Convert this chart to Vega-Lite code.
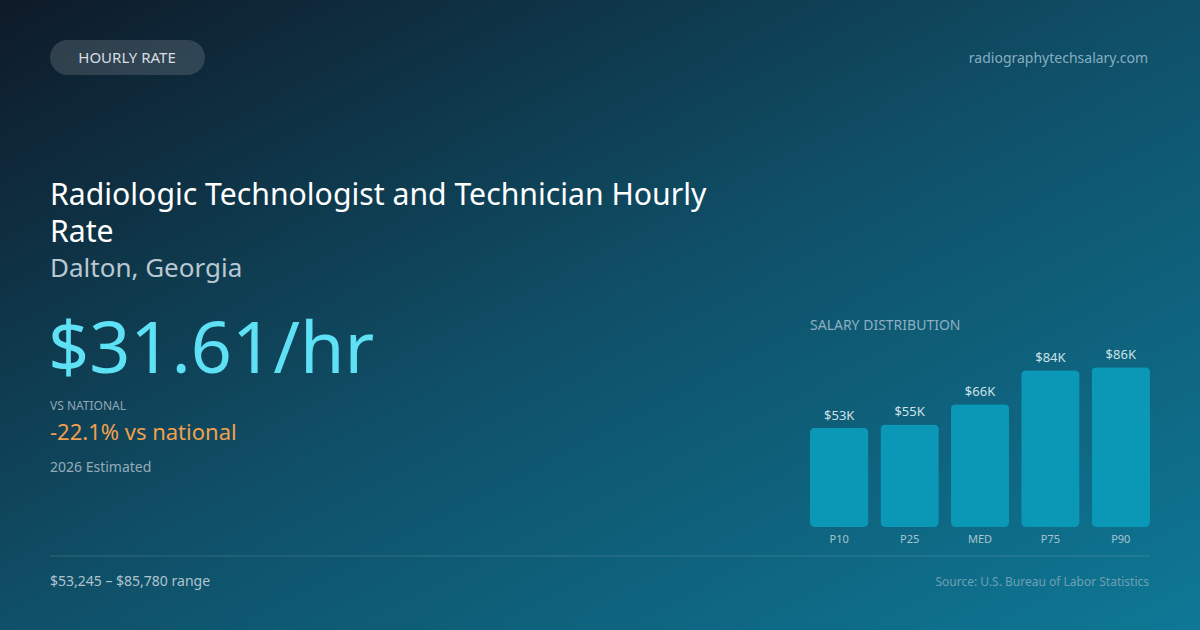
{
  "$schema": "https://vega.github.io/schema/vega-lite/v6.json",
  "width": 1200,
  "height": 630,
  "autosize": "none",
  "padding": 0,
  "background": "#0f3f56",
  "config": {
    "view": {"stroke": null},
    "font": "Noto Sans",
    "text": {"font": "Noto Sans"}
  },
  "datasets": {
    "dist": [
      {"pct": "P10", "salary": 53245, "label": "$53K"},
      {"pct": "P25", "salary": 55110, "label": "$55K"},
      {"pct": "MED", "salary": 65870, "label": "$66K"},
      {"pct": "P75", "salary": 84170, "label": "$84K"},
      {"pct": "P90", "salary": 85780, "label": "$86K"}
    ],
    "one": [{}]
  },
  "layer": [
    {
      "data": {"name": "one"},
      "mark": {
        "type": "rect", "x": 0, "x2": 1200, "y": 0, "y2": 630,
        "fill": {
          "gradient": "linear", "x1": 0, "y1": 0, "x2": 1, "y2": 1,
          "stops": [
            {"offset": 0, "color": "#0e1a28"},
            {"offset": 0.5, "color": "#0f5068"},
            {"offset": 1, "color": "#0e7896"}
          ]
        }
      },
      "encoding": {}
    },
    {
      "data": {"name": "one"},
      "mark": {"type": "rect", "x": 50, "x2": 205, "y": 40, "y2": 75, "cornerRadius": 17.5, "fill": "#ffffff", "fillOpacity": 0.14},
      "encoding": {}
    },
    {
      "data": {"name": "one"},
      "mark": {"type": "text", "x": 127, "y": 63, "align": "center", "baseline": "alphabetic", "fontSize": 15, "color": "#d5dee4", "text": "HOURLY RATE"},
      "encoding": {}
    },
    {
      "data": {"name": "one"},
      "mark": {"type": "text", "x": 1148, "y": 63, "align": "right", "baseline": "alphabetic", "fontSize": 14, "color": "#86aec1", "text": "radiographytechsalary.com"},
      "encoding": {}
    },
    {
      "data": {"name": "one"},
      "mark": {"type": "text", "x": 50, "y": 205, "align": "left", "baseline": "alphabetic", "fontSize": 30.2, "color": "#ffffff", "text": "Radiologic Technologist and Technician Hourly"},
      "encoding": {}
    },
    {
      "data": {"name": "one"},
      "mark": {"type": "text", "x": 50, "y": 242, "align": "left", "baseline": "alphabetic", "fontSize": 30.2, "color": "#ffffff", "text": "Rate"},
      "encoding": {}
    },
    {
      "data": {"name": "one"},
      "mark": {"type": "text", "x": 50, "y": 277, "align": "left", "baseline": "alphabetic", "fontSize": 26, "color": "#b8c8d2", "text": "Dalton, Georgia"},
      "encoding": {}
    },
    {
      "data": {"name": "one"},
      "mark": {"type": "text", "x": 48, "y": 373, "align": "left", "baseline": "alphabetic", "fontSize": 72, "color": "#5fe1f5", "text": "$31.61/hr"},
      "encoding": {}
    },
    {
      "data": {"name": "one"},
      "mark": {"type": "text", "x": 50, "y": 410, "align": "left", "baseline": "alphabetic", "fontSize": 12, "color": "#8ea8b6", "text": "VS NATIONAL"},
      "encoding": {}
    },
    {
      "data": {"name": "one"},
      "mark": {"type": "text", "x": 50, "y": 440, "align": "left", "baseline": "alphabetic", "fontSize": 22, "color": "#f0a04e", "text": "-22.1% vs national"},
      "encoding": {}
    },
    {
      "data": {"name": "one"},
      "mark": {"type": "text", "x": 50, "y": 472, "align": "left", "baseline": "alphabetic", "fontSize": 14, "color": "#95abb8", "text": "2026 Estimated"},
      "encoding": {}
    },
    {
      "data": {"name": "one"},
      "mark": {"type": "rule", "strokeWidth": 1},
      "encoding": {
        "x": {"value": 50},
        "x2": {"value": 1150},
        "y": {"value": 556},
        "color": {"value": "#ffffff"},
        "opacity": {"value": 0.15}
      }
    },
    {
      "data": {"name": "one"},
      "mark": {"type": "text", "x": 50, "y": 586, "align": "left", "baseline": "alphabetic", "fontSize": 14, "color": "#b0c4ce", "text": "$53,245 – $85,780 range"},
      "encoding": {}
    },
    {
      "data": {"name": "one"},
      "mark": {"type": "text", "x": 1149, "y": 586, "align": "right", "baseline": "alphabetic", "fontSize": 12, "color": "#6fa0b5", "text": "Source: U.S. Bureau of Labor Statistics"},
      "encoding": {}
    },
    {
      "data": {"name": "one"},
      "mark": {"type": "text", "x": 810, "y": 330, "align": "left", "baseline": "alphabetic", "fontSize": 14, "color": "#8db0c0", "text": "SALARY DISTRIBUTION"},
      "encoding": {}
    },
    {
      "data": {"name": "dist"},
      "layer": [
        {
          "mark": {"type": "bar", "cornerRadius": 5, "color": "#0b98b6"},
          "encoding": {
            "x": {"field": "pct", "type": "nominal", "sort": null, "axis": null,
                  "scale": {"range": [810, 1150], "paddingInner": 0.17, "paddingOuter": 0}},
            "y": {"field": "salary", "type": "quantitative", "axis": null,
                  "scale": {"domain": [0, 85780], "range": [527, 367.3], "nice": false, "zero": true}}
          }
        },
        {
          "mark": {"type": "text", "baseline": "alphabetic", "dy": -8, "fontSize": 13, "color": "#cde1e8"},
          "encoding": {
            "x": {"field": "pct", "type": "nominal", "sort": null},
            "y": {"field": "salary", "type": "quantitative"},
            "text": {"field": "label"}
          }
        },
        {
          "mark": {"type": "text", "baseline": "alphabetic", "dy": 16, "fontSize": 11, "color": "#a9c5d0"},
          "encoding": {
            "x": {"field": "pct", "type": "nominal", "sort": null},
            "y": {"datum": 0, "type": "quantitative"},
            "text": {"field": "pct"}
          }
        }
      ]
    }
  ]
}
